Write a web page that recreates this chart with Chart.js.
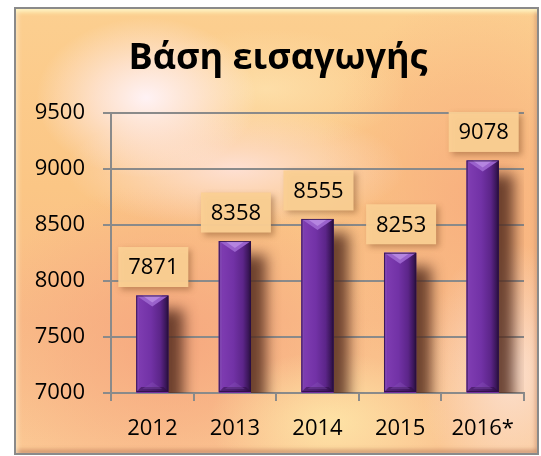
<!DOCTYPE html>
<html>
<head>
<meta charset="utf-8">
<script src="https://cdn.jsdelivr.net/npm/chart.js@4"></script>
<style>
html,body{margin:0;padding:0;width:541px;height:456px;overflow:hidden;background:#ffffff;}
#frame{position:absolute;left:14px;top:7px;width:521px;height:444px;border:2px solid #8a8a8a;
background:
 radial-gradient(ellipse 110px 80px at 25% 20%, rgba(255,244,250,0.95) 0%, rgba(255,238,242,0.6) 45%, rgba(255,238,242,0) 100%),
 radial-gradient(ellipse 170px 60px at 42% 36%, rgba(255,232,236,0.75) 0%, rgba(255,232,236,0) 100%),
 radial-gradient(ellipse 140px 60px at 48% 18%, rgba(254,230,180,0.7) 0%, rgba(254,230,180,0) 100%),
 radial-gradient(ellipse 120px 70px at 60% 93%, rgba(254,230,168,0.9) 0%, rgba(254,230,168,0) 100%),
 radial-gradient(ellipse 90px 130px at 95% 82%, rgba(252,226,212,0.9) 0%, rgba(252,226,212,0) 100%),
 radial-gradient(ellipse 200px 160px at 30% 75%, rgba(246,166,126,0.9) 0%, rgba(246,166,126,0) 100%),
 radial-gradient(ellipse 160px 200px at 88% 42%, rgba(247,172,126,0.85) 0%, rgba(247,172,126,0) 100%),
 linear-gradient(180deg, #fccf90 0%, #fbc685 40%, #f9bd88 70%, #fbc894 100%);
box-shadow: inset 0 6px 4px -3px rgba(255,250,200,0.9), inset 3px 0 4px -1px rgba(255,240,210,0.7), inset 0 -5px 4px -2px rgba(170,100,70,0.55), inset -4px 0 4px -2px rgba(200,140,110,0.5);
}
#wrap{position:absolute;left:0;top:0;width:541px;height:456px;}
</style>
</head>
<body>
<div id="frame"></div>
<div id="wrap"><canvas id="c" width="541" height="456"></canvas></div>
<script>
const categories = ['2012', '2013', '2014', '2015', '2016*'];
const values = [7871, 8358, 8555, 8253, 9078];
const yTicks = [7000, 7500, 8000, 8500, 9000, 9500];
const titleText = 'Βάση εισαγωγής';

const FONT = "'Open Sans', 'Noto Sans', sans-serif";

const barShadow = {
  id: 'barShadow',
  beforeDatasetsDraw(chart) {
    const ctx = chart.ctx;
    const meta = chart.getDatasetMeta(0);
    const ca = chart.chartArea;
    ctx.save();
    ctx.beginPath();
    ctx.rect(ca.left, ca.top - 40, ca.right - ca.left, ca.bottom - ca.top + 40);
    ctx.clip();
    meta.data.forEach(b => {
      const w = b.width, l = b.x - w / 2;
      const bt = Math.min(b.base, ca.bottom);
      ctx.save();
      ctx.shadowColor = 'rgba(85,45,30,0.85)';
      ctx.shadowBlur = 14;
      ctx.shadowOffsetX = 1000 + 13;
      ctx.shadowOffsetY = 0;
      ctx.fillStyle = 'rgba(0,0,0,1)';
      ctx.fillRect(l - 1000 + 4, b.y + 14, w - 2, bt - b.y);
      ctx.restore();
    });
    ctx.restore();
  },
  afterDatasetsDraw(chart) {
    const ctx = chart.ctx;
    const meta = chart.getDatasetMeta(0);
    const ca = chart.chartArea;
    meta.data.forEach(b => {
      const w = b.width, l = b.x - w / 2, r = l + w, t = b.y;
      const bt = Math.min(b.base, ca.bottom - 1);
      ctx.save();
      const g = ctx.createLinearGradient(l, 0, r, 0);
      g.addColorStop(0, '#6a2b98');
      g.addColorStop(0.12, '#7d3bb0');
      g.addColorStop(0.45, '#7232a6');
      g.addColorStop(0.75, '#5c2589');
      g.addColorStop(0.92, '#3a1658');
      g.addColorStop(1, '#241035');
      ctx.fillStyle = g;
      ctx.fillRect(l, t, w, bt - t);
      const bv = 7;
      ctx.fillStyle = '#9a62cc';
      ctx.beginPath();
      ctx.moveTo(l, t); ctx.lineTo(r, t); ctx.lineTo(b.x, t + bv + 4); ctx.closePath();
      ctx.fill();
      ctx.fillStyle = '#b585e0';
      ctx.beginPath();
      ctx.moveTo(l + 6, t); ctx.lineTo(r - 6, t); ctx.lineTo(b.x, t + bv); ctx.closePath();
      ctx.fill();
      ctx.fillStyle = 'rgba(150,100,200,0.35)';
      ctx.fillRect(l, t, 3, bt - t);
      ctx.fillStyle = 'rgba(40,10,60,0.5)';
      ctx.beginPath();
      ctx.moveTo(l, bt); ctx.lineTo(r, bt); ctx.lineTo(r - 5, bt - 5); ctx.lineTo(l + 5, bt - 5); ctx.closePath();
      ctx.fill();
      ctx.fillStyle = 'rgba(140,90,190,0.3)';
      ctx.beginPath();
      ctx.moveTo(l + 6, bt - 3); ctx.lineTo(r - 6, bt - 3); ctx.lineTo(b.x, bt - 10); ctx.closePath();
      ctx.fill();
      ctx.strokeStyle = 'rgba(45,15,70,0.8)';
      ctx.lineWidth = 1;
      ctx.strokeRect(l + 0.5, t + 0.5, w - 1, bt - t - 1);
      ctx.restore();
    });
    meta.data.forEach((b, i) => {
      const bw = 70, bh = 40;
      const cx = b.x + 1, bottom = b.y - 8.5;
      ctx.save();
      ctx.shadowColor = 'rgba(120,70,30,0.45)';
      ctx.shadowBlur = 6;
      ctx.shadowOffsetX = 3;
      ctx.shadowOffsetY = 3;
      ctx.fillStyle = 'rgba(251,208,148,0.95)';
      ctx.fillRect(cx - bw / 2, bottom - bh, bw, bh);
      ctx.restore();
      ctx.save();
      ctx.fillStyle = '#000000';
      ctx.font = '22px ' + FONT;
      ctx.textAlign = 'center';
      ctx.textBaseline = 'middle';
      ctx.fillText(String(values[i]), cx, bottom - bh / 2 + 1);
      ctx.restore();
    });
  }
};

new Chart(document.getElementById('c'), {
  type: 'bar',
  data: {
    labels: categories,
    datasets: [{
      data: values,
      backgroundColor: '#7030a0',
      borderWidth: 0,
      categoryPercentage: 1,
      barPercentage: 0.39
    }]
  },
  options: {
    responsive: false,
    animation: false,
    events: [],
    layout: { padding: { left: 32, right: 17, top: 0, bottom: 0 } },
    plugins: {
      legend: { display: false },
      tooltip: { enabled: false },
      title: {
        display: true,
        text: titleText,
        color: '#000000',
        font: { family: FONT, size: 36, weight: 'bold', lineHeight: 1.2 },
        padding: { top: 37, bottom: 33 }
      }
    },
    scales: {
      x: {
        grid: { display: true, drawOnChartArea: false, drawTicks: true, tickLength: 8, color: '#8a8a8a', lineWidth: 2 },
        border: { display: true, color: '#8a8a8a', width: 2 },
        ticks: { color: '#000000', font: { family: FONT, size: 22 }, padding: 15 },
        afterFit(scale) { scale.height = 63; }
      },
      y: {
        min: 7000,
        max: 9500,
        afterBuildTicks(scale) { scale.ticks = yTicks.map(v => ({ value: v })); },
        grid: { color: '#8a8a8a', lineWidth: 2, tickLength: 8 },
        border: { display: true, color: '#8a8a8a', width: 2 },
        ticks: { color: '#000000', font: { family: FONT, size: 22 }, padding: 18, callback: v => String(v) },
        afterFit(scale) { scale.width = 79; }
      }
    }
  },
  plugins: [barShadow]
});
</script>
</body>
</html>
